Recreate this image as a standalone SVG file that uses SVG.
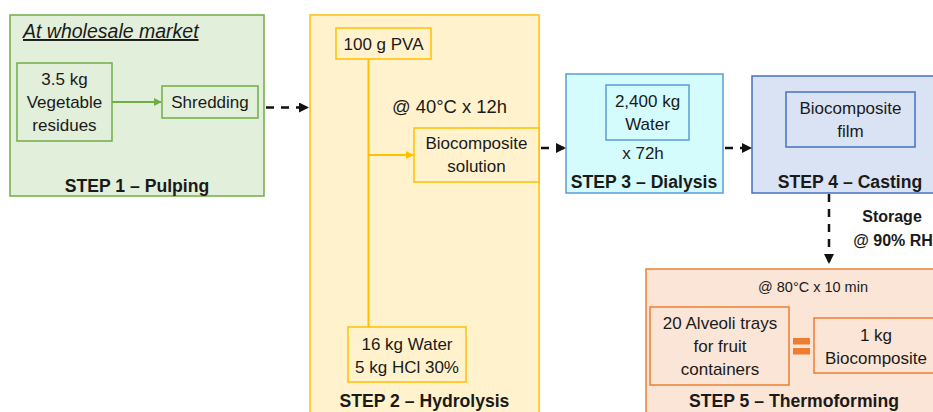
<svg xmlns="http://www.w3.org/2000/svg" width="933" height="412" viewBox="0 0 933 412">
  <style>
    text { font-family: "Liberation Sans", Arial, sans-serif; fill: #1a1a1a; }
    .t { font-size: 17px; text-anchor: middle; }
    .s { font-size: 14.5px; text-anchor: middle; }
    .step { font-size: 17.6px; font-weight: bold; text-anchor: middle; }
    .g { fill: #E2EFDA; stroke: #70AD47; stroke-width: 1.5; }
    .y { fill: #FFF2CC; stroke: #FFC000; stroke-width: 1.5; }
    .c { fill: #D4FCFD; stroke: #5B9BD5; stroke-width: 1.5; }
    .b { fill: #DAE3F3; stroke: #4472C4; stroke-width: 1.5; }
    .o { fill: #FBE5D6; stroke: #ED7D31; stroke-width: 1.5; }
    .dash { stroke: #111; stroke-width: 2.5; stroke-dasharray: 8 7; fill: none; }
  </style>
  <defs>
    <marker id="ah" viewBox="0 0 10 10" refX="9" refY="5" markerWidth="4" markerHeight="4" orient="auto" markerUnits="strokeWidth">
      <path d="M0,0 L10,5 L0,10 z" fill="#111"/>
    </marker>
    <marker id="ahg" viewBox="0 0 10 10" refX="9" refY="5" markerWidth="4" markerHeight="4" orient="auto" markerUnits="strokeWidth">
      <path d="M0,0 L10,5 L0,10 z" fill="#70AD47"/>
    </marker>
    <marker id="ahy" viewBox="0 0 10 10" refX="9" refY="5" markerWidth="4" markerHeight="4" orient="auto" markerUnits="strokeWidth">
      <path d="M0,0 L10,5 L0,10 z" fill="#FFC000"/>
    </marker>
  </defs>

  <!-- Step 1: pulping -->
  <g id="step1">
    <rect class="g" x="10" y="15" width="254" height="181"/>
    <text x="23" y="38" style="font-size:19.5px;font-style:italic;text-decoration:underline">At wholesale market</text>
    <text class="step" x="137" y="192">STEP 1 – Pulping</text>
  </g>
  <g id="residues">
    <rect class="g" x="17" y="63" width="95" height="78"/>
    <text class="t" x="64.5" y="85">3.5 kg</text>
    <text class="t" x="64.5" y="108">Vegetable</text>
    <text class="t" x="64.5" y="131">residues</text>
  </g>
  <g id="shredding">
    <rect class="g" x="162" y="86" width="96" height="32"/>
    <text class="t" x="210" y="108">Shredding</text>
  </g>

  <!-- Step 2: hydrolysis -->
  <g id="step2">
    <rect class="y" x="310" y="15" width="229" height="410"/>
    <text class="t" x="449.5" y="113" style="font-size:18.4px">@ 40°C x 12h</text>
    <text class="step" x="424.5" y="407">STEP 2 – Hydrolysis</text>
  </g>
  <g id="pva">
    <rect class="y" x="336" y="28" width="95" height="31"/>
    <text class="t" x="383.5" y="50">100 g PVA</text>
  </g>
  <g id="solution">
    <rect class="y" x="414" y="128" width="125" height="54"/>
    <text class="t" x="476.5" y="149">Biocomposite</text>
    <text class="t" x="476.5" y="172">solution</text>
  </g>
  <g id="acid">
    <rect class="y" x="348" y="327" width="118" height="55"/>
    <text class="t" x="407" y="350">16 kg Water</text>
    <text class="t" x="407" y="373">5 kg HCl 30%</text>
  </g>

  <!-- Step 3: dialysis -->
  <g id="step3">
    <rect class="c" x="566" y="74" width="157" height="119"/>
    <text class="t" x="643" y="159">x 72h</text>
    <text class="step" x="644" y="188">STEP 3 – Dialysis</text>
  </g>
  <g id="water">
    <rect class="c" x="606" y="85" width="83" height="55"/>
    <text class="t" x="647.5" y="107">2,400 kg</text>
    <text class="t" x="647.5" y="130">Water</text>
  </g>

  <!-- Step 4: casting -->
  <g id="step4">
    <rect class="b" x="752" y="76" width="195" height="117"/>
    <text class="step" x="850" y="188">STEP 4 – Casting</text>
  </g>
  <g id="film">
    <rect class="b" x="786" y="92" width="129" height="55"/>
    <text class="t" x="850.5" y="114">Biocomposite</text>
    <text class="t" x="850.5" y="137">film</text>
  </g>
  <g id="storage">
    <text class="step" x="892" y="222" style="font-size:16px">Storage</text>
    <text class="step" x="893" y="246" style="font-size:16px">@ 90% RH</text>
  </g>

  <!-- Step 5: thermoforming -->
  <g id="step5">
    <rect class="o" x="646" y="269" width="300" height="160"/>
    <text class="s" x="813" y="292">@ 80°C x 10 min</text>
    <text class="step" x="794" y="407">STEP 5 – Thermoforming</text>
  </g>
  <g id="trays">
    <rect class="o" x="650" y="307" width="139" height="78"/>
    <text class="t" x="720" y="329">20 Alveoli trays</text>
    <text class="t" x="720" y="352">for fruit</text>
    <text class="t" x="720" y="375">containers</text>
  </g>
  <g id="equals">
    <rect x="793" y="338" width="17" height="6.5" fill="#ED7D31"/>
    <rect x="793" y="348" width="17" height="6.5" fill="#ED7D31"/>
  </g>
  <g id="biocomposite">
    <rect class="o" x="814" y="318" width="130" height="55"/>
    <text class="t" x="876" y="341">1 kg</text>
    <text class="t" x="876" y="364">Biocomposite</text>
  </g>

  <!-- connectors -->
  <g id="connectors">
    <line x1="112" y1="102" x2="161" y2="102" stroke="#70AD47" stroke-width="2" marker-end="url(#ahg)"/>
    <line x1="368.5" y1="59" x2="368.5" y2="327" stroke="#FFC000" stroke-width="2"/>
    <line x1="368.5" y1="155" x2="413" y2="155" stroke="#FFC000" stroke-width="2" marker-end="url(#ahy)"/>
    <line class="dash" x1="266" y1="107.5" x2="308" y2="107.5" marker-end="url(#ah)"/>
    <line class="dash" x1="541" y1="148" x2="565" y2="148" marker-end="url(#ah)"/>
    <line class="dash" x1="725" y1="148" x2="751" y2="148" marker-end="url(#ah)"/>
    <line class="dash" x1="829" y1="194" x2="829" y2="263" marker-end="url(#ah)"/>
  </g>
</svg>
